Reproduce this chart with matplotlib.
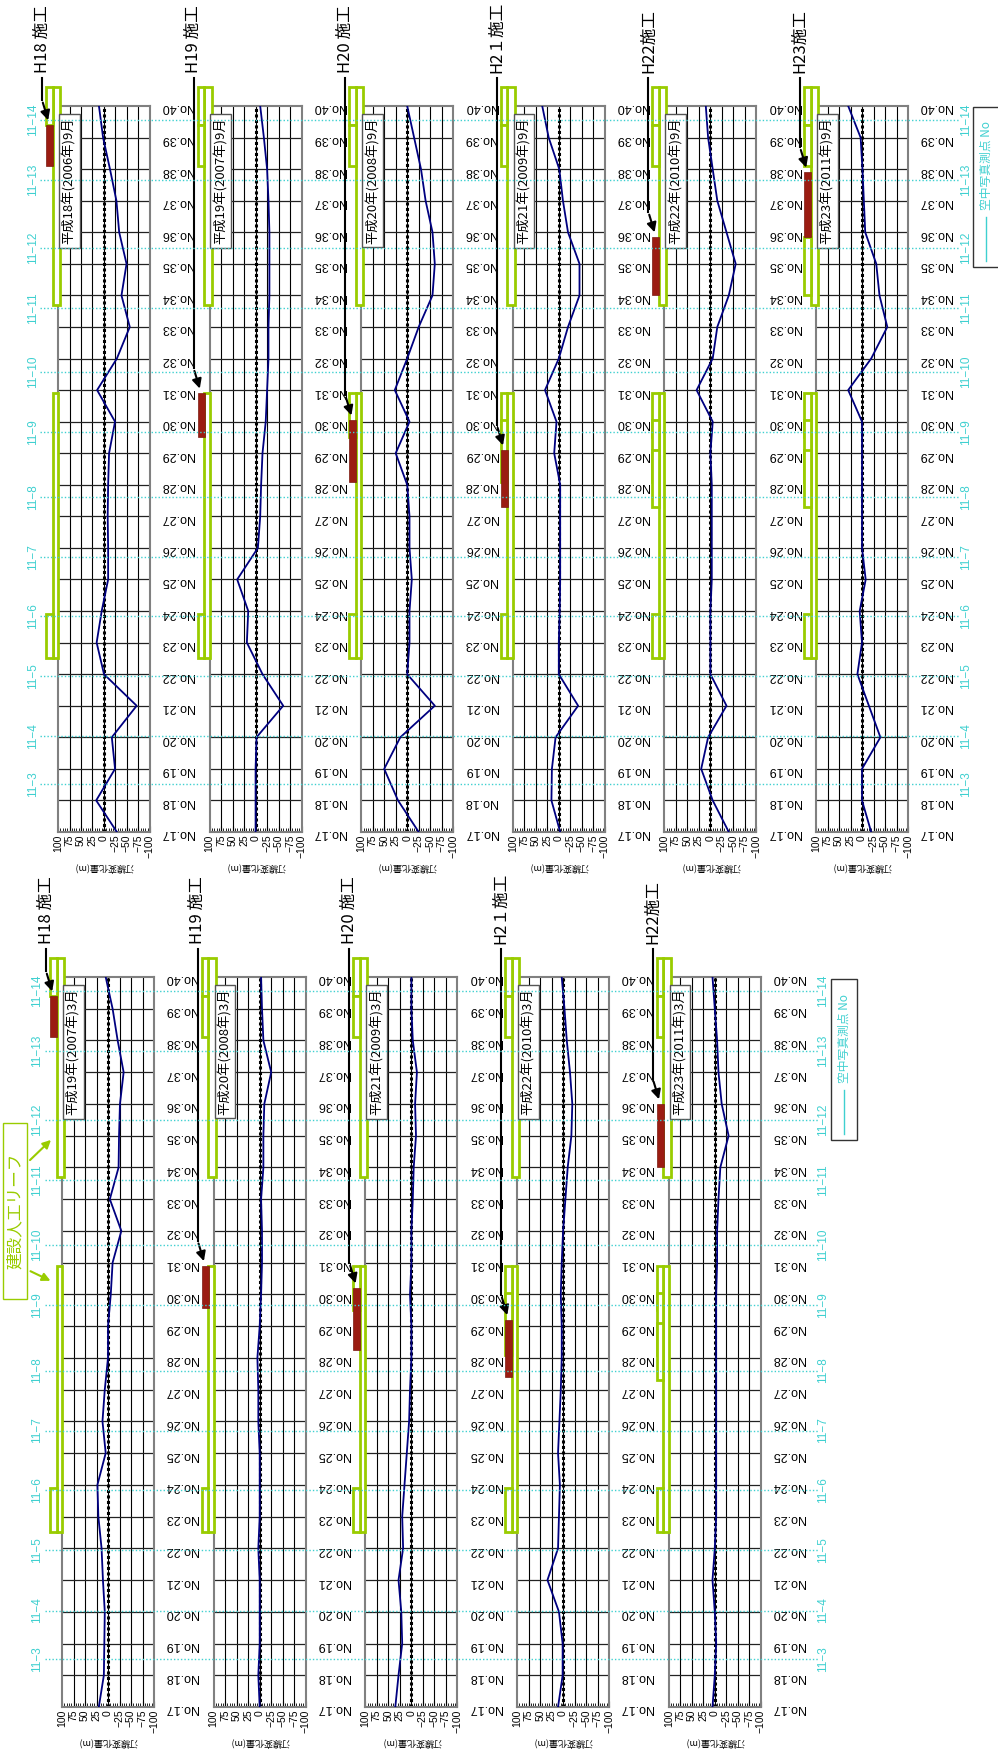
import matplotlib.pyplot as plt
import matplotlib.transforms as mtransforms
from matplotlib.patches import Rectangle, FancyArrowPatch
from matplotlib.lines import Line2D
from matplotlib.ticker import MultipleLocator

plt.rcParams['font.family'] = ['Noto Sans CJK JP', 'DejaVu Sans']

W, H = 998, 1757

stations = list(range(17, 41))
station_labels = ['No.%d' % n for n in stations]
x_ticks = [100, 75, 50, 25, 0, -25, -50, -75, -100]

photo_labels = ['11−3', '11−4', '11−5', '11−6', '11−7', '11−8', '11−9',
                '11−10', '11−11', '11−12', '11−13', '11−14']
photo_pos = [18.52, 20.04, 21.94, 23.84, 25.71, 27.6, 29.67, 31.57,
             33.6, 35.5, 37.66, 39.56]

# September surveys (top row), values for No.17 ... No.40
sep_titles = ['H18 施工', 'H19 施工', 'H20 施工', 'H2１施工', 'H22施工', 'H23施工']
sep_dates = ['平成18年(2006年)9月', '平成19年(2007年)9月', '平成20年(2008年)9月',
             '平成21年(2009年)9月', '平成22年(2010年)9月', '平成23年(2011年)9月']
sep_h18 = [-28, 17, -24, -17, -71, 0, 16, 5, -9, -9, -8, -9, -11, -24, 15, -28,
           -56, -38, -49, -33, -27, -13, 2, 11]
sep_h19 = [0, 0, 0, -2, -60, -15, 19, 16, 40, -5, -10, -12, -15, -22, -25, -28,
           -28, -30, -30, -30, -28, -25, -18, -10]
sep_h20 = [-25, 20, 50, 15, -60, 0, -5, -5, -10, -5, -5, 0, 25, -5, 27, 0,
           -25, -55, -60, -55, -40, -30, -15, 0]
sep_h21 = [-3, 16, 15, 7, -42, 0, 0, -2, -3, -3, -3, -3, 10, 5, 30, 0,
           -20, -45, -45, -20, -9, -1, 22, 36]
sep_h22 = [-40, -5, 20, 5, -35, 0, 0, 0, -3, -3, -3, -3, 0, -5, 30, -5,
           -15, -40, -55, -35, -15, -5, 5, 10]
sep_h23 = [-20, 0, 0, -40, -15, 10, 0, 5, -8, 0, 0, 0, 0, 0, 30, -20,
           -55, -38, -31, -7, -4, -1, 3, 30]
sep_series = [sep_h18, sep_h19, sep_h20, sep_h21, sep_h22, sep_h23]
# section built in each year (red bar)
built = [(38.1, 39.4), (29.5, 30.9), (28.1, 30.05), (27.3, 29.1), (34.0, 35.85), (35.85, 37.9)]

# March surveys (bottom row)
mar_titles = ['H18 施工', 'H19 施工', 'H20 施工', 'H2１施工', 'H22施工']
mar_dates = ['平成19年(2007年)3月', '平成20年(2008年)3月', '平成21年(2009年)3月',
             '平成22年(2010年)3月', '平成23年(2011年)3月']
mar_h18 = [20, 9, 8, 7, 11, 14, 21, 23, 5, 12, 7, 0, 0, -6, -10, -29, -4, -23,
           -24, -26, -34, -21, -10, 5]
mar_h19 = [0, 3, 0, 0, 0, 3, 0, 0, 0, 3, 3, 5, 0, -3, -5, -5, -3, -8,
           -8, -10, -25, -8, -5, -3]
mar_h20 = [35, 28, 20, 22, 28, 18, 20, 15, 10, 5, 3, 0, 0, 3, 0, 0, -3, -5,
           -10, -8, -12, -3, 0, 0]
mar_h21 = [11, 1, 1, 9, 34, 11, 9, 7, 11, 8, 5, 3, 3, 5, 3, 0, -5, -10,
           -18, -20, -15, -8, -3, 3]
mar_h22 = [5, 0, -3, 0, 5, 0, -3, -3, -3, -3, -3, -3, -3, -3, -5, -5, -8, -12,
           -30, -15, -8, -5, 0, 5]
mar_series = [mar_h18, mar_h19, mar_h20, mar_h21, mar_h22]
mar_red = [(38.1, 39.4), (29.57, 30.9), (28.25, 30.2), (27.4, 29.2), (34.0, 36.0)]

north_reef = (33.7, 40.6)
south_reef = (22.5, 30.9)
existing = [(39.4, 40.6), (22.5, 23.9)]

GREEN = '#99cc00'
CYAN = '#3fd0d0'
NAVY = '#000080'
RED = '#9b1c12'
LAT = 'Liberation Sans'

fig = plt.figure(figsize=(W / 100, H / 100), dpi=100)


def fx(x):
    return x / W


def fy(y):
    return 1 - y / H


def make_panel(left, top, bottom, values, date):
    ax = fig.add_axes([fx(left), fy(bottom), 92 / W, (bottom - top) / H])
    ax.set_xlim(100, -100)
    ax.set_ylim(17, 40)
    for v in x_ticks[1:-1]:
        ax.axvline(v, color='black', lw=0.8, zorder=1)
    for s in stations[1:-1]:
        ax.axhline(s, color='#222222', lw=0.9, zorder=1)
    ax.axvline(0, color='black', lw=2.2, ls=(0, (1, 0.8)), zorder=2)
    ax.plot(values, stations, color=NAVY, lw=1.3, zorder=3)
    for sp in ax.spines.values():
        sp.set_color('#808080')
        sp.set_linewidth(1.5)
    ax.set_xticks(x_ticks)
    ax.set_xticklabels([str(v).replace('-', '−') for v in x_ticks],
                       rotation=90, fontsize=7.5, family=LAT)
    ax.xaxis.set_minor_locator(MultipleLocator(5))
    ax.tick_params(axis='x', which='major', direction='in', length=4, width=0.8, pad=2)
    ax.tick_params(axis='x', which='minor', direction='in', length=3, width=0.6)
    ax.yaxis.tick_right()
    ax.set_yticks(stations)
    ax.set_yticklabels(station_labels, rotation=180, fontsize=9, family=LAT)
    ax.tick_params(axis='y', length=0, pad=8)
    ax.set_xlabel('汀線変化量(m)', rotation=180, fontsize=6.5, labelpad=3)
    ax.text(0.045, 0.984, date, rotation=90, transform=ax.transAxes,
            ha='left', va='top', fontsize=9.5, zorder=5,
            bbox=dict(boxstyle='square,pad=0.25', fc='white', ec='#555555', lw=1))
    return ax


def side_bar(ax, y0, y1, x0, x1, **kw):
    tr = mtransforms.blended_transform_factory(ax.transAxes, ax.transData)
    r = Rectangle((x0 / 92, y0), (x1 - x0) / 92, y1 - y0, transform=tr,
                  clip_on=False, **kw)
    ax.add_patch(r)


def decorate(ax, left, top, title, red, done):
    # reef plan (inner column) and built parts (outer column)
    side_bar(ax, north_reef[0], north_reef[1], -5.5, 2, fc='white', ec=GREEN, lw=2, zorder=4)
    side_bar(ax, south_reef[0], south_reef[1], -5.5, 0, fc='white', ec=GREEN, lw=2, zorder=4)
    for (a, b) in done:
        side_bar(ax, a, b, -12, -5.5, fc='white', ec=GREEN, lw=2, zorder=4)
    side_bar(ax, red[0], red[1], -12, -5, fc=RED, ec='#7a1a10', lw=0.5, zorder=5)
    # title and arrow
    tx = left - 16
    fig.text(fx(tx), fy(top - 33), title, rotation=90, ha='center', va='bottom',
             fontsize=12)
    tip_y = ax.transData.transform((0, red[1]))[1] / H
    tip_x = fx(left - 9)
    fig.add_artist(Line2D([fx(tx), fx(tx)], [fy(top - 28), tip_y + 25 / H],
                          color='black', lw=1.5))
    fig.add_artist(FancyArrowPatch(
        (fx(tx), tip_y + 25 / H), (tip_x, tip_y + 2 / H),
        transform=fig.transFigure, arrowstyle='-|>', mutation_scale=14,
        color='black', lw=1.5))


def photo_lines(ax0, x0, x1, xlab_l, xlab_r):
    tr = mtransforms.blended_transform_factory(fig.transFigure, ax0.transData)
    for lab, p in zip(photo_labels, photo_pos):
        fig.add_artist(Line2D([fx(x0), fx(x1)], [p, p], transform=tr, color=CYAN,
                              lw=1, ls=(0, (1, 1.5)), zorder=6))
        for xl in (xlab_l, xlab_r):
            t = fig.text(0, 0, lab, transform=tr, rotation=90, ha='center',
                         va='center', color=CYAN, fontsize=8.5, family=LAT)
            t.set_position((fx(xl), p))


# top row
top_lefts = [58 + i * 151.6 for i in range(6)]
top_axes = []
for i in range(6):
    ax = make_panel(top_lefts[i], 106, 832, sep_series[i], sep_dates[i])
    decorate(ax, top_lefts[i], 106, sep_titles[i], built[i], existing + built[:i])
    top_axes.append(ax)
photo_lines(top_axes[0], 40, 960, 33, 966)

# bottom row
bot_lefts = [62 + i * 151.7 for i in range(5)]
bot_axes = []
for i in range(5):
    ax = make_panel(bot_lefts[i], 977, 1707, mar_series[i], mar_dates[i])
    decorate(ax, bot_lefts[i], 977, mar_titles[i], mar_red[i], existing + built[:i])
    bot_axes.append(ax)
photo_lines(bot_axes[0], 45, 818, 37, 823)

# legends for photo survey points
for (x0, y0, x1, y1) in [(973, 107, 1010, 267), (831, 979, 857, 1140)]:
    fig.add_artist(Rectangle((fx(x0), fy(y1)), fx(x1 - x0), (y1 - y0) / H,
                             transform=fig.transFigure, fc='white', ec='#333333', lw=1))
    xc = x0 + 13
    fig.add_artist(Line2D([fx(xc), fx(xc)], [fy(y1 - 6), fy(y1 - 50)], color=CYAN, lw=1,
                          transform=fig.transFigure))
    fig.text(fx(xc), fy(y1 - 57), '空中写真測点 No', rotation=90, ha='center', va='bottom',
             color=CYAN, fontsize=8.5)

# artificial reef label
fig.add_artist(Rectangle((fx(3), fy(1299)), fx(24), 176 / H, transform=fig.transFigure,
                         fc='white', ec=GREEN, lw=1))
fig.text(fx(15), fy(1211), '建設人工リーフ', rotation=90, ha='center', va='center',
         color=GREEN, fontsize=12)
for (a, b) in [((28, 1162), (53, 1138)), ((28, 1270), (53, 1282))]:
    fig.add_artist(FancyArrowPatch(
        (fx(a[0]), fy(a[1])), (fx(b[0]), fy(b[1])), transform=fig.transFigure,
        arrowstyle='-|>', mutation_scale=12, color=GREEN, lw=1.5))

fig.savefig('out.png', dpi=100)
